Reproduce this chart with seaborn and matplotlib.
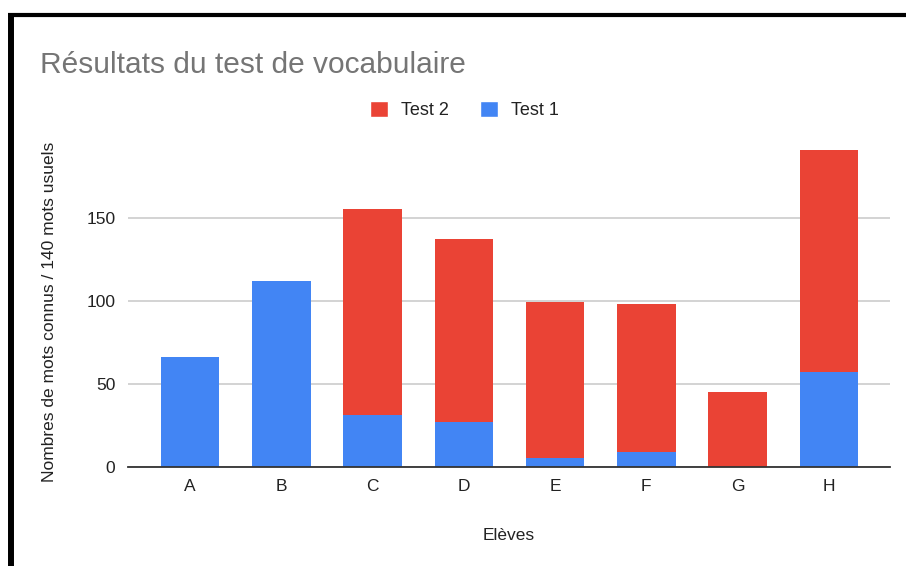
import matplotlib
matplotlib.use("Agg")
import matplotlib.pyplot as plt
import seaborn as sns
import pandas as pd
from matplotlib.patches import Patch
from matplotlib.lines import Line2D

eleves = ["A", "B", "C", "D", "E", "F", "G", "H"]
test1 = [66, 112, 31, 27, 5, 9, 0, 57]
test2 = [0, 0, 124, 110, 94, 89, 45, 134]
yticks = [0, 50, 100, 150]

RED = "#EA4335"
BLUE = "#4285F4"

sns.set_theme(style="white")
plt.rcParams["font.family"] = ["Liberation Sans", "DejaVu Sans"]

df = pd.DataFrame({"Elève": eleves, "Test 1": test1, "Test 2": test2})
df["Total"] = df["Test 1"] + df["Test 2"]

W, H = 906, 566
fig = plt.figure(figsize=(W / 100, H / 100), dpi=100)
ax = fig.add_axes([128 / W, 99.3 / H, (890 - 128) / W, (423 - 99.3) / H])

sns.barplot(data=df, x="Elève", y="Total", color=RED, saturation=1, width=0.64, ax=ax)
sns.barplot(data=df, x="Elève", y="Test 1", color=BLUE, saturation=1, width=0.64, ax=ax)
for p in ax.patches:
    p.set_edgecolor("none")

ax.set_xlim(-0.68, 7.67)
ax.set_ylim(0, 195)
ax.set_yticks(yticks)
ax.set_yticklabels([str(v) for v in yticks])
ax.grid(axis="y", color="#cccccc", linewidth=1.2)
ax.set_axisbelow(True)
for s in ["top", "right", "left"]:
    ax.spines[s].set_visible(False)
ax.spines["bottom"].set_color("#333333")
ax.spines["bottom"].set_linewidth(1.3)
ax.tick_params(axis="both", length=0, labelsize=12.5, colors="#222222")
ax.tick_params(axis="y", pad=9)
ax.tick_params(axis="x", pad=9)

ax.set_xlabel("Elèves", fontsize=12.5, color="#222222")
ax.xaxis.set_label_coords(0.5, -(536 - 466.7) / 323.7)
ax.xaxis.label.set_va("center")
ax.set_ylabel("Nombres de mots connus / 140 mots usuels", fontsize=12.5, color="#222222")
ax.yaxis.set_label_coords(-(128 - 50) / 762, (466.7 - 312) / 323.7)
ax.yaxis.label.set_va("center")

fig.text(40 / W, 1 - 65 / H, "Résultats du test de vocabulaire", fontsize=21.5,
         color="#757575", ha="left", va="center")

handles = [Patch(facecolor=RED, label="Test 2"), Patch(facecolor=BLUE, label="Test 1")]
fig.legend(handles=handles, loc="center", bbox_to_anchor=(464.5 / W, 1 - 110 / H), ncol=2,
           frameon=False, fontsize=13, handlelength=1.0, handleheight=1.0,
           handletextpad=0.75, columnspacing=1.7, labelcolor="#222222")

# black frame (left and top)
fig.add_artist(Line2D([11 / W, 11 / W], [0, 1 - 13 / H], transform=fig.transFigure,
                      color="black", linewidth=4.3, solid_capstyle="butt"))
fig.add_artist(Line2D([8 / W, 1], [1 - 15.3 / H, 1 - 15.3 / H], transform=fig.transFigure,
                      color="black", linewidth=3.0, solid_capstyle="butt"))

fig.savefig("out.png", dpi=100)
